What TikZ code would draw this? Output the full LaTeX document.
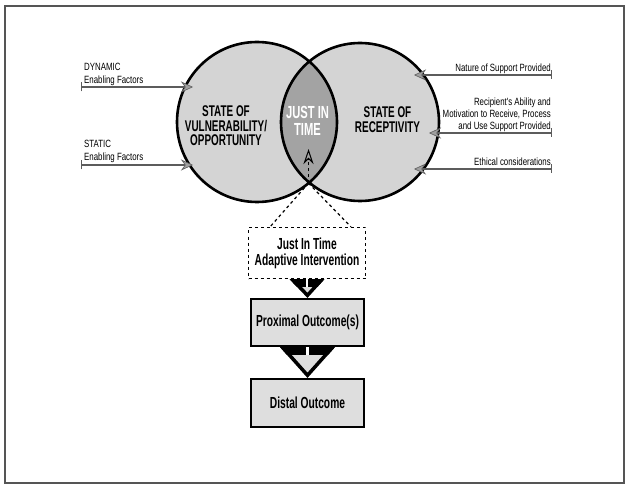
\documentclass[tikz,border=0pt]{standalone}
\usepackage{fontspec}
\setmainfont{Liberation Sans}[FakeStretch=0.64]
\newfontfamily\sidefont{Liberation Sans}[FakeStretch=0.75]
\usepackage{tikz}
\usetikzlibrary{arrows.meta,positioning,calc}
\definecolor{ring}     {HTML}{D4D4D4}
\definecolor{lensgray} {HTML}{A3A3A3}
\definecolor{boxfill}  {HTML}{DEDEDE}
\definecolor{wire}     {HTML}{5C5C5C}
\definecolor{tipfill}  {HTML}{A0A0A0}
\definecolor{framegray}{HTML}{555555}
% black wedge between two stacked boxes: #1 upper, #2 lower, #3 half width
\newcommand{\flowhead}[3]{%
  \begin{scope}
    \clip ($(#1.south)+(-#3,0)$) -- ($(#1.south)+(#3,0)$) -- (#2.north) -- cycle;
    \fill[boxfill] ($(#1.south)+(-#3,0)$) -- ($(#1.south)+(#3,0)$) -- (#2.north) -- cycle;
    \draw[line width=7pt] ($(#1.south)+(-#3,0)$) -- ($(#1.south)+(#3,0)$) -- (#2.north) -- cycle;
    \fill ($(#1.south)+(-#3,0)$) rectangle ($(#1.south)+(#3,7.5)$);
  \end{scope}
  \draw[white,line width=2.5pt] (#1.south) -- ++(0,7.5);}

\begin{document}
\begin{tikzpicture}[x=1pt,y=-1pt,
  ringtxt/.style={font=\bfseries\fontsize{15.5}{14.5}\selectfont,align=center,inner sep=0pt},
  sidetxt/.style={font=\sidefont\fontsize{10.5}{13}\selectfont,inner sep=0pt},
  sidearrow/.style={wire,line width=1.1pt,{Bar[width=9pt,line width=1.1pt]}-{Stealth[length=12pt,width=11pt,inset=4pt,color=wire,fill=tipfill,line width=0.6pt]}},
  flowbox/.style={draw,line width=2.2pt,fill=boxfill,minimum width=113pt,minimum height=47pt,inner sep=0pt,align=center,font=\bfseries\fontsize{16}{16}\selectfont}]
\useasboundingbox (0,0) rectangle (629,489);
\fill[white] (0,0) rectangle (629,489);
\draw[framegray,line width=1.3pt] (5,6) rectangle (624,483);

% the two states and their overlap
\node[circle,fill=ring,minimum size=160pt,inner sep=0pt] (vuln) at (257,122) {};
\node[circle,fill=ring,minimum size=158pt,inner sep=0pt] (recep) at (360,122) {};
\begin{scope}
  \clip (vuln.center) circle (80);
  \fill[lensgray] (recep.center) circle (79);
\end{scope}
\draw[line width=2.6pt] (vuln.center) circle (80) (recep.center) circle (79);
\coordinate (lensBot) at (308.5,183.2);
\coordinate (jitTip) at (308.5,149);

\node[ringtxt] (vulnTxt) at (226,126) {STATE OF\\VULNERABILITY/\\OPPORTUNITY};
\node[ringtxt] (recepTxt) at (387.5,119.5) {STATE OF\\RECEPTIVITY};
\node[ringtxt,text=white,font=\bfseries\fontsize{17.5}{16.5}\selectfont] (jitTxt) at (307.5,121) {JUST IN\\TIME};

% factors on the left
\coordinate (dynTail) at (81,87);
\coordinate (dynTip) at (193,87);
\coordinate (statTail) at (81,165);
\coordinate (statTip) at (193,165);
\draw[sidearrow] (dynTail) -- (dynTip);
\draw[sidearrow] (statTail) -- (statTip);
\node[sidetxt,anchor=south west,align=left] (dynTxt) at (84,85.5) {DYNAMIC\\Enabling Factors};
\node[sidetxt,anchor=south west,align=left] (statTxt) at (84,163) {STATIC\\Enabling Factors};

% factors on the right
\coordinate (natTail) at (552,75);
\coordinate (natTip) at (414,75);
\coordinate (recTail) at (552,133);
\coordinate (recTip) at (429,133);
\coordinate (ethTail) at (552,169);
\coordinate (ethTip) at (414,169);
\draw[sidearrow] (natTail) -- (natTip);
\draw[sidearrow] (recTail) -- (recTip);
\draw[sidearrow] (ethTail) -- (ethTip);
\node[sidetxt,anchor=south east,align=right] (natTxt) at (551,73.5) {Nature of Support Provided};
\node[sidetxt,anchor=south east,align=right,font=\sidefont\fontsize{10.5}{12}\selectfont] (recTxt) at (551,132) {Recipient's Ability and\\Motivation to Receive, Process\\and Use Support Provided};
\node[sidetxt,anchor=south east,align=right] (ethTxt) at (551,166) {Ethical considerations};

% intervention chain
\node[flowbox,dashed,fill=white,line width=1.2pt,minimum width=117pt,minimum height=51pt] (adapt) at (307,253) {Just In Time\\Adaptive Intervention};
\node[flowbox] (prox) at (307.5,322.5) {Proximal Outcome(s)};
\node[flowbox,minimum height=48pt] (distal) at (307.5,403) {Distal Outcome};

\draw[dashed,line width=1.2pt] (lensBot) -- ([xshift=-37pt]adapt.north);
\draw[dashed,line width=1.2pt] (lensBot) -- ([xshift=44pt]adapt.north);
\draw[dashed,line width=1.1pt,-{Stealth[open,length=15pt,width=10pt,inset=5pt,line width=1pt]}] (lensBot) -- (jitTip);

\flowhead{adapt}{prox}{17.5}
\flowhead{prox}{distal}{27.5}
\end{tikzpicture}
\end{document}
